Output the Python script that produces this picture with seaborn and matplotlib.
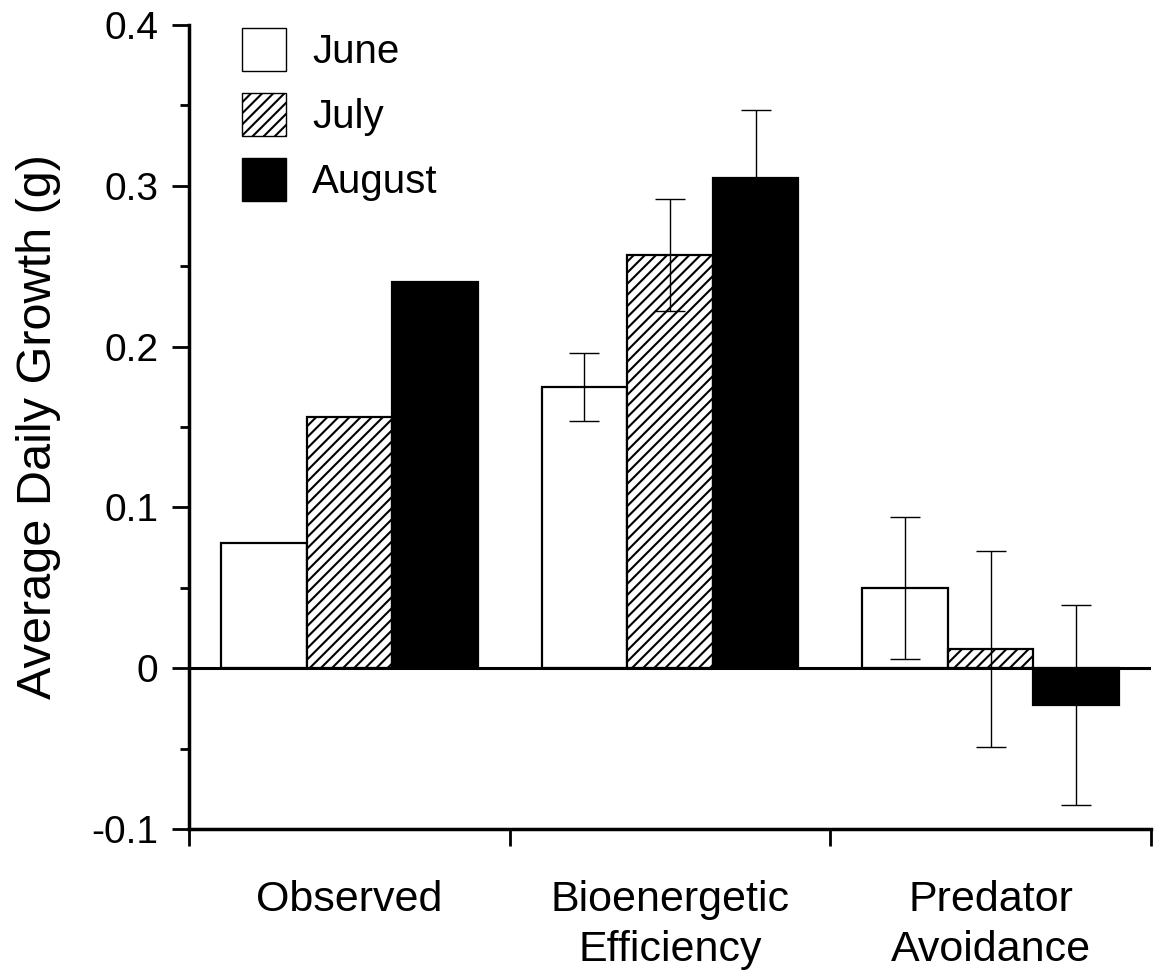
import numpy as np
import pandas as pd
import matplotlib
matplotlib.use("Agg")
import matplotlib.pyplot as plt
from matplotlib.patches import Patch
from matplotlib.ticker import FixedLocator, FuncFormatter
import seaborn as sns

# Average daily growth per model and month
categories = ["Observed", "Bioenergetic\nEfficiency", "Predator\nAvoidance"]
months = ["June", "July", "August"]
june = [0.078, 0.175, 0.050]
july = [0.156, 0.257, 0.012]
august = [0.240, 0.305, -0.023]
# standard errors (none for the observed values)
june_se = [np.nan, 0.021, 0.044]
july_se = [np.nan, 0.035, 0.061]
august_se = [np.nan, 0.042, 0.062]

y_ticks = [-0.1, 0.0, 0.1, 0.2, 0.3, 0.4]

sns.set_style("ticks")
plt.rcParams["font.family"] = ["Liberation Sans", "DejaVu Sans"]
plt.rcParams["hatch.linewidth"] = 1.5
for key in ("text.color", "axes.edgecolor", "axes.labelcolor",
            "xtick.color", "ytick.color"):
    plt.rcParams[key] = "black"

values = {"June": june, "July": july, "August": august}
errors = {"June": june_se, "July": july_se, "August": august_se}
df = pd.DataFrame(
    [(c, m, values[m][i]) for m in months for i, c in enumerate(categories)],
    columns=["treatment", "month", "growth"],
)

fig = plt.figure(figsize=(11.56, 9.72), dpi=100)
ax = fig.add_axes([189 / 1156, 1 - 829 / 972, (1151 - 189) / 1156, (829 - 25) / 972])

sns.barplot(
    data=df, x="treatment", y="growth", hue="month",
    order=categories, hue_order=months,
    palette={"June": "white", "July": "white", "August": "black"},
    edgecolor="black", linewidth=1.6, width=0.8, saturation=1,
    errorbar=None, legend=False, ax=ax,
)

# hatch the July bars, add error bars at each bar centre
for month, container in zip(months, ax.containers):
    if month == "July":
        for p in container.patches:
            p.set_hatch("///")
    xs = [p.get_x() + p.get_width() / 2 for p in container.patches]
    ax.errorbar(xs, values[month], yerr=errors[month], fmt="none",
                ecolor="black", elinewidth=1.0, capsize=11, capthick=1.0,
                zorder=6)

ax.axhline(0, color="black", lw=2.2, zorder=5)

ax.set_xlim(-0.5, 2.5)
ax.set_ylim(-0.1, 0.4)

# y axis
ax.yaxis.set_major_locator(FixedLocator(y_ticks))
ax.yaxis.set_minor_locator(FixedLocator([-0.05, 0.05, 0.15, 0.25, 0.35]))
ax.yaxis.set_major_formatter(FuncFormatter(lambda v, _: "0" if abs(v) < 1e-9 else f"{v:.1f}"))
ax.tick_params(axis="y", which="major", length=12, width=2, pad=10, labelsize=28)
ax.tick_params(axis="y", which="minor", length=6.5, width=2)

# x axis: ticks between groups, labels under group centres
ax.set_xticks([-0.5, 0.5, 1.5, 2.5])
ax.set_xticklabels([])
ax.set_xticks([0, 1, 2], minor=True)
ax.set_xticklabels(categories, minor=True, fontsize=31, linespacing=1.3)
ax.tick_params(axis="x", which="major", length=12, width=2)
ax.tick_params(axis="x", which="minor", length=0, pad=37)

for side in ("top", "right"):
    ax.spines[side].set_visible(False)
for side in ("left", "bottom"):
    ax.spines[side].set_linewidth(2.5)

ax.set_xlabel("")
ax.set_ylabel("Average Daily Growth (g)", fontsize=35)
ax.yaxis.set_label_coords(-0.133, 0.5)

handles = [
    Patch(facecolor="white", edgecolor="black", linewidth=1.0),
    Patch(facecolor="white", edgecolor="black", linewidth=1.0, hatch="///"),
    Patch(facecolor="black", edgecolor="black", linewidth=1.0),
]
ax.legend(handles, months, loc="upper left", bbox_to_anchor=(0.055, 0.996),
          frameon=False, fontsize=29, handlelength=1.1, handleheight=1.25,
          labelspacing=0.55, handletextpad=0.65, borderpad=0, borderaxespad=0)

fig.savefig("out.png", dpi=100)
